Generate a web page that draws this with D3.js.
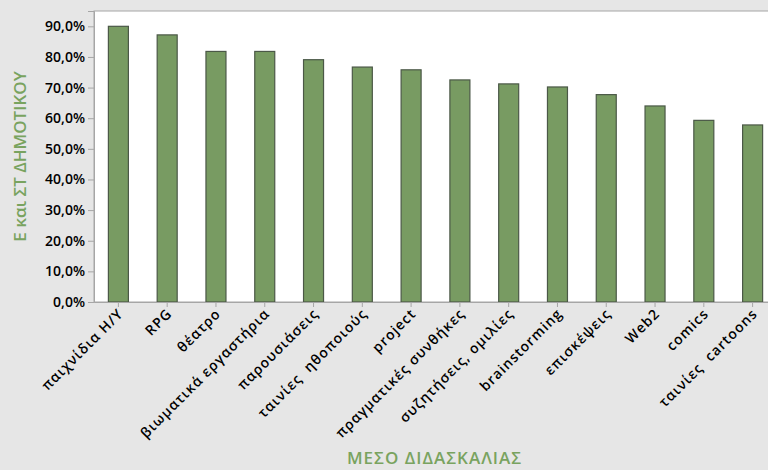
<!DOCTYPE html>
<html>
<head>
<meta charset="utf-8">
<script src="https://cdn.jsdelivr.net/npm/d3@7"></script>
<style>
  html, body { margin: 0; padding: 0; background: #e6e6e6; }
  svg { display: block; }
  svg text { font-family: "Open Sans", "Noto Sans", sans-serif; }
</style>
</head>
<body>
<svg id="chart" width="768" height="470"></svg>
<script>
// Δεδομένα
var categories = ['παιχνίδια Η/Υ', 'RPG', 'θέατρο', 'βιωματικά εργαστήρια', 'παρουσιάσεις',
  'ταινίες  ηθοποιούς', 'project', 'πραγματικές συνθήκες', 'συζητήσεις, ομιλίες',
  'brainstorming', 'επισκέψεις', 'Web2', 'comics', 'ταινίες  cartoons'];
var values = [90.0, 87.2, 81.8, 81.8, 79.1, 76.7, 75.8, 72.5, 71.2, 70.2, 67.7, 64.0, 59.3, 57.8];
var yTicks = [0, 10, 20, 30, 40, 50, 60, 70, 80, 90];
var xTitle = 'ΜΕΣΟ ΔΙΔΑΣΚΑΛΙΑΣ';
var yTitle = 'Ε και ΣΤ ΔΗΜΟΤΙΚΟΥ';

// Διαστάσεις
var margin = { top: 11, left: 94, bottom: 168 },
  plotW = 683,
  plotH = 470 - margin.top - margin.bottom;

var svg = d3.select('#chart');

var locale = d3.formatLocale({ decimal: ',', thousands: '.', grouping: [3], currency: ['', '€'] });
var fmt = locale.format('.1f');

var x = d3.scaleBand()
  .domain(categories)
  .range([0, plotW])
  .paddingInner(0.59)
  .paddingOuter(0.295);

var y = d3.scaleLinear()
  .domain([0, 95])
  .range([plotH, 0]);

var g = svg.append('g')
  .attr('transform', 'translate(' + margin.left + ',' + margin.top + ')');

// Περιοχή γραφήματος
g.append('rect')
  .attr('x', 0).attr('y', 0)
  .attr('width', plotW).attr('height', plotH)
  .attr('fill', '#ffffff')
  .attr('stroke', '#a6a6a6')
  .attr('stroke-width', 1);

// Μπάρες
g.selectAll('.bar')
  .data(values)
  .enter()
  .append('rect')
  .attr('class', 'bar')
  .attr('x', function (d, i) { return x(categories[i]); })
  .attr('y', function (d) { return y(d); })
  .attr('width', x.bandwidth())
  .attr('height', function (d) { return plotH - y(d); })
  .attr('fill', '#789b62')
  .attr('stroke', '#4b5847')
  .attr('stroke-width', 1.2);

// Άξονας Y
var yAxis = g.append('g')
  .call(d3.axisLeft(y).tickValues(yTicks).tickSize(6).tickPadding(3)
    .tickFormat(function (d) { return fmt(d) + '%'; }));
yAxis.attr('font-family', null);
yAxis.select('.domain').attr('stroke', '#a6a6a6');
yAxis.selectAll('.tick line').attr('stroke', '#a6a6a6');
yAxis.selectAll('.tick text')
  .attr('fill', '#000')
  .style('font-size', '14px')
  .style('font-weight', 600);

// Άξονας X
var xAxis = g.append('g')
  .attr('transform', 'translate(0,' + plotH + ')')
  .call(d3.axisBottom(x).tickSize(5).tickSizeOuter(0));
xAxis.attr('font-family', null);
xAxis.select('.domain').attr('stroke', '#a6a6a6');
xAxis.selectAll('.tick line').attr('stroke', '#a6a6a6');
xAxis.selectAll('.tick text')
  .attr('fill', '#000')
  .style('font-size', '14px')
  .style('font-weight', 600)
  .style('letter-spacing', '1px')
  .style('white-space', 'pre')
  .attr('text-anchor', 'end')
  .attr('dx', 0)
  .attr('dy', 0)
  .attr('transform', 'translate(0,7) rotate(-45)');

// Τίτλοι αξόνων
svg.append('text')
  .attr('x', margin.left + plotW / 2 - 1)
  .attr('y', 464)
  .attr('text-anchor', 'middle')
  .attr('fill', '#79a35f')
  .style('font-size', '17px')
  .style('font-weight', 600)
  .style('letter-spacing', '1px')
  .text(xTitle);

svg.append('text')
  .attr('transform', 'translate(26,' + (margin.top + plotH / 2) + ') rotate(-90)')
  .attr('text-anchor', 'middle')
  .attr('fill', '#79a35f')
  .style('font-size', '17px')
  .style('font-weight', 600)
  .text(yTitle);
</script>
</body>
</html>
